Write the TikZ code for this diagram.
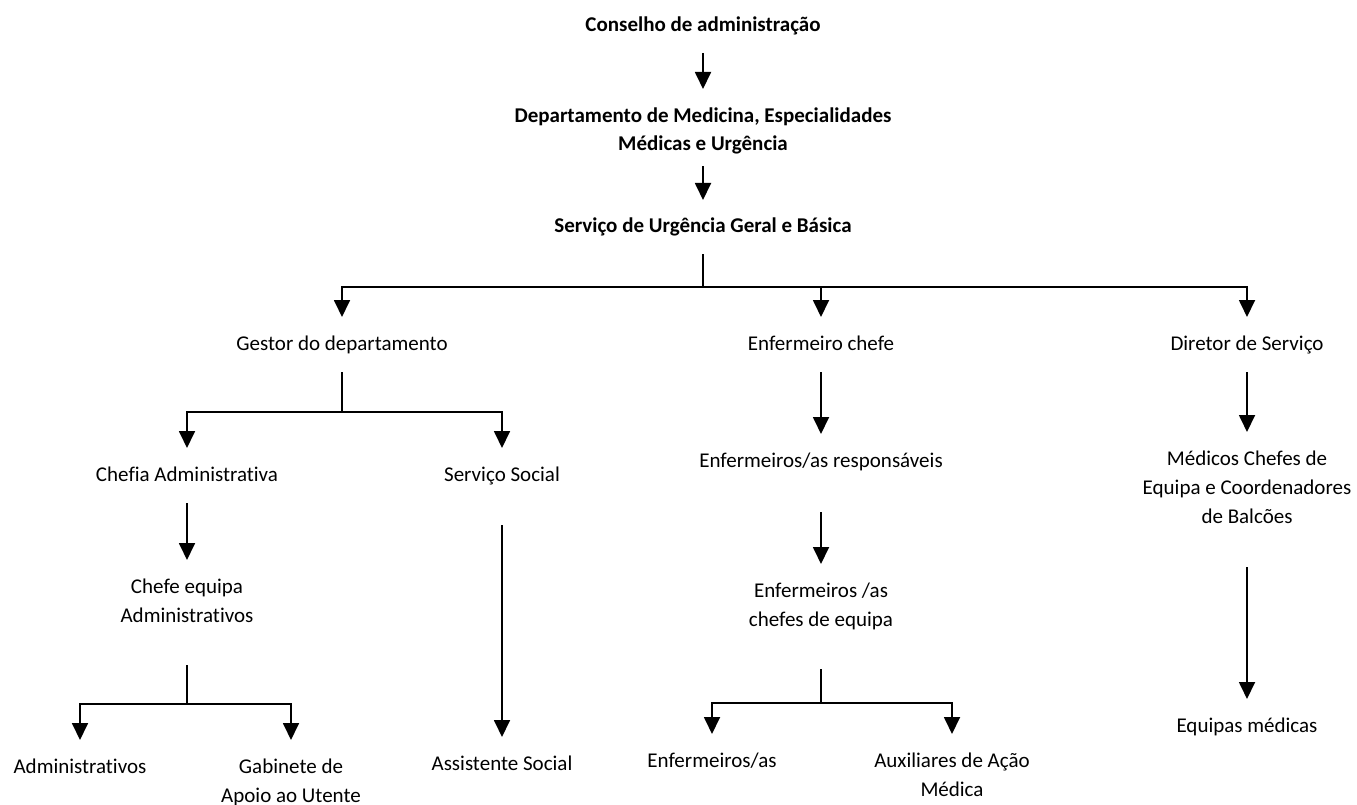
\documentclass[tikz,border=0pt]{standalone}
\usepackage{fontspec}
\setmainfont{Carlito}[Ligatures=NoCommon]
\usetikzlibrary{arrows.meta,positioning,calc}

\begin{document}
\begin{tikzpicture}[x=1pt,y=-1pt,
    lbl/.style={anchor=north, align=center, inner sep=0pt, outer ysep=13pt,
      font=\fontsize{21}{29}\selectfont,
      execute at begin node=\strut, execute at end node=\strut},
    multi/.style={outer ysep=19pt},
    head/.style={lbl, font=\fontsize{21}{28}\selectfont\bfseries},
    link/.style={line width=1.8pt},
    arr/.style={link, -{Triangle[length=17pt,width=16pt]}}]
  \useasboundingbox (0,0) rectangle (1357,805);

  % --- top of the chart ---
  \node[head] (conselho) at (703,-1) {Conselho de administração};
  \node[head, multi] (dept) at (703,89) {Departamento de Medicina, Especialidades\\Médicas e Urgência};
  \node[head] (servico) at (703,200) {Serviço de Urgência Geral e Básica};

  % --- second level ---
  \node[lbl] (gestor) at (342,317) {Gestor do departamento};
  \node[lbl] (enfchefe) at (821,317) {Enfermeiro chefe};
  \node[lbl] (diretor) at (1247,317) {Diretor de Serviço};

  % --- gestor branch ---
  \node[lbl] (chefia) at (187,448) {Chefia Administrativa};
  \node[lbl] (social) at (502,448) {Serviço Social};
  \node[lbl, multi] (chefeeq) at (187,560) {Chefe equipa\\Administrativos};
  \node[lbl] (admin) at (80,740) {Administrativos};
  \node[lbl, multi] (gabinete) at (291,740) {Gabinete de\\Apoio ao Utente};
  \node[lbl] (assist) at (502,737) {Assistente Social};

  % --- enfermagem branch ---
  \node[lbl] (enfresp) at (821,434) {Enfermeiros/as responsáveis};
  \node[lbl, multi] (enfeq) at (821,564) {Enfermeiros /as\\chefes de equipa};
  \node[lbl] (enfas) at (712,734) {Enfermeiros/as};
  \node[lbl, multi] (auxiliar) at (952,734) {Auxiliares de Ação\\Médica};

  % --- diretor branch ---
  \node[lbl, multi] (medicos) at (1247,432) {Médicos Chefes de\\Equipa e Coordenadores\\de Balcões};
  \node[lbl] (equipas) at (1247,699) {Equipas médicas};

  % junctions
  \coordinate (jtop) at (703,287);
  \coordinate (jgest) at (342,412);
  \coordinate (jchefe) at (187,704);
  \coordinate (jenf) at (821,703);

  % connectors
  \draw[arr] (conselho) -- (dept);
  \draw[arr] ([yshift=12pt]dept.south) -- (servico);
  \draw[link] (servico) -- (jtop);
  \draw[arr] (jtop) -| (gestor);
  \draw[arr] (jtop) -| (enfchefe);
  \draw[arr] (jtop) -| (diretor);

  \draw[link] (gestor) -- (jgest);
  \draw[arr] (jgest) -| (chefia);
  \draw[arr] (jgest) -| (social);
  \draw[arr] (chefia) -- (chefeeq);
  \draw[arr] ([yshift=-22pt]social.south) -- (assist);
  \draw[link] ([yshift=-15pt]chefeeq.south) -- (jchefe);
  \draw[arr] (jchefe) -| (admin);
  \draw[arr] (jchefe) -| (gabinete);

  \draw[arr] (enfchefe) -- (enfresp);
  \draw[arr] ([yshift=-23pt]enfresp.south) -- (enfeq);
  \draw[link] ([yshift=-15pt]enfeq.south) -- (jenf);
  \draw[arr] (jenf) -| (enfas);
  \draw[arr] (jenf) -| (auxiliar);

  \draw[arr] (diretor) -- (medicos);
  \draw[arr] ([yshift=-16pt]medicos.south) -- (equipas);
\end{tikzpicture}
\end{document}
